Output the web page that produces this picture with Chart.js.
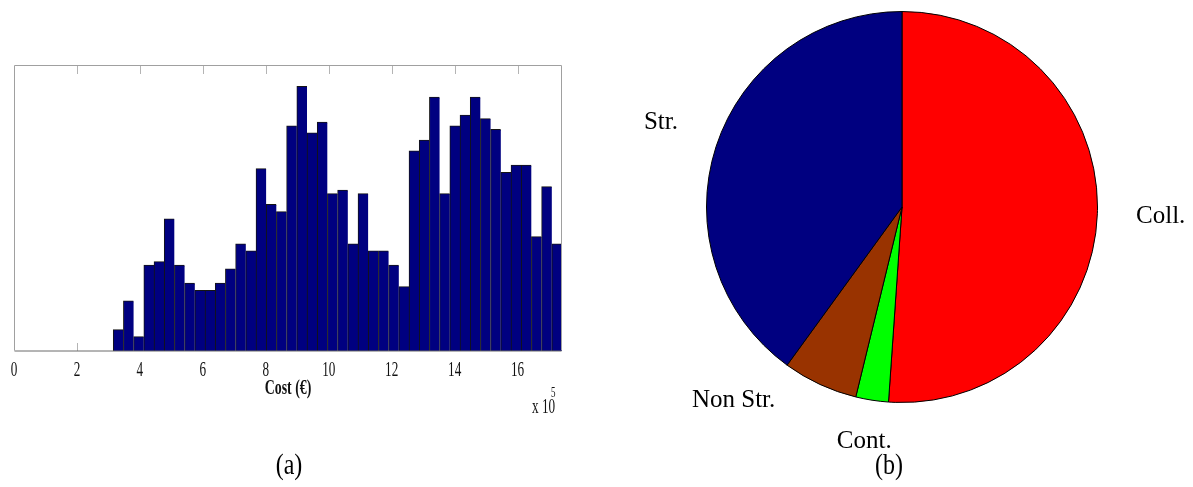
<!DOCTYPE html>
<html>
<head>
<meta charset="utf-8">
<title>Cost distribution and cost shares</title>
<script src="https://cdn.jsdelivr.net/npm/chart.js@4/dist/chart.umd.min.js"></script>
<style>
  html, body { margin: 0; padding: 0; background: #fff; }
  #wrap { position: relative; width: 1193px; height: 487px; overflow: hidden; }
  #hist { position: absolute; left: 0; top: 0; }
  #pie { position: absolute; left: 600px; top: 0; }
  .panel-tag {
    position: absolute; top: 446px; width: 80px; margin-left: -40px;
    text-align: center; font-family: "Liberation Serif", serif; font-size: 30px;
    line-height: 36px; color: #000; transform: scaleX(0.8);
  }
</style>
</head>
<body>
<div id="wrap">
  <canvas id="hist" width="600" height="487"></canvas>
  <canvas id="pie" width="593" height="487"></canvas>
  <div class="panel-tag" id="tagA" style="left:289px"></div>
  <div class="panel-tag" id="tagB" style="left:889px"></div>
</div>
<script>
// ---- (a) histogram of total cost, in units of 10^5 EUR ----
const binStart = 3.152;          // lower edge of the first bin
const binWidth = 0.32405;        // width of every bin
const binCounts = [6, 14, 4, 24, 25, 37, 24, 19, 17, 17, 19, 23, 30, 28, 51, 41, 39, 63, 74, 61,
                   64, 44, 45, 30, 44, 28, 28, 24, 18, 56, 59, 71, 44, 63, 66, 71, 65, 62, 50, 52,
                   52, 32, 46, 30];
const xMin = 0;
const xMax = 17.41;
const xStep = 2;
const yMax = 80;
const xTitle = 'Cost (€)';
const xMultiplier = ['x 10', '5'];

// ---- (b) share of each cost component (%) ----
const sliceLabels = ['Coll.', 'Cont.', 'Non Str.', 'Str.'];
const sliceShares = [51.1, 2.7, 6.2, 40.0];
const sliceColors = ['#ff0000', '#00ff00', '#993300', '#000080'];

const panelTags = ['(a)', '(b)'];

const binCenters = binCounts.map((_, i) => binStart + (i + 0.5) * binWidth);

function squeezedText(ctx, text, x, y, sx, align) {
  ctx.save();
  ctx.translate(x, y);
  ctx.scale(sx, 1);
  ctx.textAlign = align;
  ctx.fillText(text, 0, 0);
  ctx.restore();
}

// Inward tick marks, box frame and condensed serif labels for the histogram axes
const axisDecor = {
  id: 'axisDecor',
  beforeDatasetsDraw(chart) {
    const { ctx, chartArea: a, scales: { x } } = chart;
    ctx.save();
    ctx.strokeStyle = '#b4b4b4';
    ctx.lineWidth = 1;
    x.ticks.forEach(t => {
      const px = Math.round(x.getPixelForValue(t.value)) + 0.5;
      if (px <= a.left + 1 || px >= a.right - 1) return;
      ctx.beginPath();
      ctx.moveTo(px, a.top);
      ctx.lineTo(px, a.top + 9);
      ctx.moveTo(px, a.bottom);
      ctx.lineTo(px, a.bottom - 8);
      ctx.stroke();
    });
    ctx.restore();
  },
  afterDatasetsDraw(chart) {
    const { ctx, chartArea: a } = chart;
    const l = Math.round(a.left) + 0.5, r = Math.round(a.right) - 0.5;
    const t = Math.round(a.top) + 0.5, b = Math.round(a.bottom) - 0.5;
    ctx.save();
    ctx.lineWidth = 1;
    ctx.strokeStyle = '#a0a0a0';
    ctx.beginPath();
    ctx.moveTo(l, b); ctx.lineTo(l, t); ctx.lineTo(r, t); ctx.lineTo(r, b);
    ctx.stroke();
    ctx.strokeStyle = '#6a6a6a';
    ctx.beginPath();
    ctx.moveTo(l, b + 0.5); ctx.lineTo(r, b + 0.5);
    ctx.stroke();
    ctx.restore();
  },
  afterDraw(chart) {
    const { ctx, chartArea: a, scales: { x } } = chart;
    ctx.save();
    ctx.fillStyle = '#111';
    ctx.textBaseline = 'alphabetic';
    ctx.font = '22px "Liberation Serif"';
    x.ticks.forEach(t => {
      squeezedText(ctx, String(t.value), x.getPixelForValue(t.value), a.bottom + 25, 0.6, 'center');
    });
    ctx.font = 'bold 21px "Liberation Serif"';
    squeezedText(ctx, xTitle, (a.left + a.right) / 2, a.bottom + 43, 0.66, 'center');
    ctx.font = '22px "Liberation Serif"';
    squeezedText(ctx, xMultiplier[0], a.right - 30, a.bottom + 62, 0.6, 'left');
    ctx.font = '15px "Liberation Serif"';
    squeezedText(ctx, xMultiplier[1], a.right - 11, a.bottom + 46, 0.6, 'left');
    ctx.restore();
  }
};

new Chart(document.getElementById('hist'), {
  type: 'bar',
  data: {
    datasets: [{
      data: binCenters.map((c, i) => ({ x: c, y: binCounts[i] })),
      backgroundColor: '#000080',
      borderColor: '#141414',
      borderWidth: { top: 1, left: 1, right: 0, bottom: 0 },
      barPercentage: 1,
      categoryPercentage: 1
    }]
  },
  options: {
    responsive: false,
    animation: false,
    events: [],
    layout: { padding: { left: 14, top: 65, right: 38, bottom: 136 } },
    plugins: { legend: { display: false }, tooltip: { enabled: false } },
    scales: {
      x: {
        type: 'linear',
        min: xMin,
        max: xMax,
        offset: false,
        ticks: { stepSize: xStep, includeBounds: false, display: false },
        grid: { display: false, drawTicks: false, offset: false },
        border: { display: false }
      },
      y: {
        min: 0,
        max: yMax,
        display: false
      }
    }
  },
  plugins: [axisDecor]
});

// Slice captions placed around the pie, relative to its centre and radius
const captionSpots = {
  'Coll.':    { fx: 1.197,  fy: 0.080,  align: 'left' },
  'Cont.':    { fx: -0.193, fy: 1.235,  align: 'center' },
  'Non Str.': { fx: -0.648, fy: 1.022,  align: 'right' },
  'Str.':     { fx: -1.146, fy: -0.398, align: 'right' }
};

const pieCaptions = {
  id: 'pieCaptions',
  afterDraw(chart) {
    const { ctx } = chart;
    const arcs = chart.getDatasetMeta(0).data;
    ctx.save();
    ctx.fillStyle = '#000';
    ctx.font = '25px "Liberation Serif"';
    ctx.textBaseline = 'alphabetic';
    chart.data.labels.forEach((lab, i) => {
      const arc = arcs[i];
      const spot = captionSpots[lab];
      const r = arc.outerRadius;
      ctx.textAlign = spot.align;
      ctx.fillText(lab, arc.x + spot.fx * r, arc.y + spot.fy * r);
    });
    ctx.restore();
  }
};

new Chart(document.getElementById('pie'), {
  type: 'pie',
  data: {
    labels: sliceLabels,
    datasets: [{
      data: sliceShares,
      backgroundColor: sliceColors,
      borderColor: '#000',
      borderWidth: 1
    }]
  },
  options: {
    responsive: false,
    animation: false,
    events: [],
    layout: { padding: { left: 106, right: 95, top: 11, bottom: 84 } },
    plugins: { legend: { display: false }, tooltip: { enabled: false } }
  },
  plugins: [pieCaptions]
});

document.getElementById('tagA').textContent = panelTags[0];
document.getElementById('tagB').textContent = panelTags[1];
</script>
</body>
</html>
